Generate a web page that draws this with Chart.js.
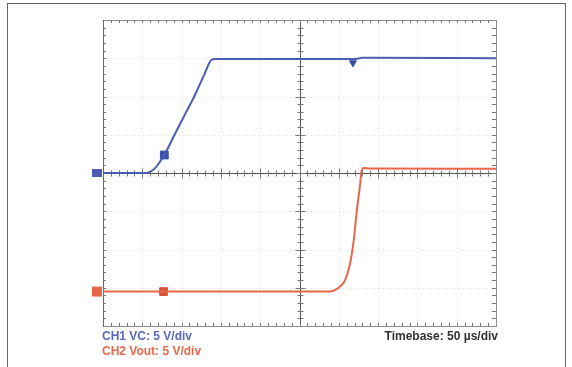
<!DOCTYPE html>
<html>
<head>
<meta charset="utf-8">
<script src="https://cdn.jsdelivr.net/npm/chart.js@4.4.0/dist/chart.umd.min.js"></script>
<style>
  body { margin: 0; background: #fff; }
  #wrap { position: relative; width: 572px; height: 367px; overflow: hidden; }
  #frame { position: absolute; left: 7px; top: 3px; width: 557px; height: 380px; border: 1px solid #666; border-bottom: none; }
  #scope { position: absolute; left: 0; top: 0; }
  .lbl { position: absolute; font: bold 12px "Liberation Sans", Arial, sans-serif; white-space: nowrap; }
</style>
</head>
<body>
<div id="wrap">
  <div id="frame"></div>
  <canvas id="scope" width="572" height="367"></canvas>
  <div class="lbl" style="left:102px; top:329px; color:#5a68b8">CH1 VC: 5 V/div</div>
  <div class="lbl" style="left:102px; top:344px; color:#e8684a">CH2 Vout: 5 V/div</div>
  <div class="lbl" style="right:74px; top:329px; color:#333">Timebase: 50 µs/div</div>
</div>
<script>
// time in µs, 50 µs/div, 10 div
let timeMin = 0
let timeMax = 500

// CH1 VC (V), 5 V/div, ground at centre
let ch1Time = [0, 53, 59, 66, 72, 78, 91, 104, 117, 129, 138, 143, 300, 320, 330, 500]
let ch1Volt = [0, 0, 0.1, 0.6, 1.4, 2.35, 5.0, 7.6, 10.2, 12.9, 14.8, 14.9, 14.9, 14.9, 15.05, 15.0]

// CH2 Vout (V), 5 V/div, ground 3.1 div below centre
let ch2Time = [0, 288, 295, 301, 308, 314, 319, 323, 327, 329, 332, 340, 500]
let ch2Volt = [0, 0, 0.2, 0.6, 1.5, 3.5, 6.7, 10.6, 13.9, 15.8, 16.15, 16.1, 16.05]

// cursor / trigger markers
let ch1MarkTime = [78]
let ch1MarkVolt = [2.35]
let ch2MarkTime = [77]
let ch2MarkVolt = [0]
let trigTime = [318]
let trigVolt = [14.4]

let blue = "#4b5cb2"
let red = "#e8664a"

function pts(xs, ys){
  return xs.map((x, i) => ({x: x, y: ys[i]}))
}

// oscilloscope graticule
let graticule = {
  id: "graticule",
  beforeDatasetsDraw(chart){
    let ctx = chart.ctx
    let a = chart.chartArea
    let x = chart.scales.x
    let y = chart.scales.y
    ctx.save()
    ctx.lineWidth = 1

    // faint dotted division lines
    ctx.strokeStyle = "rgba(190,202,218,0.6)"
    ctx.setLineDash([1, 3])
    for(let t = 50; t < 500; t += 50){
      if(t === 250) continue
      let px = Math.round(x.getPixelForValue(t)) + 0.5
      ctx.beginPath(); ctx.moveTo(px, a.top); ctx.lineTo(px, a.bottom); ctx.stroke()
    }
    for(let v = -15; v <= 15; v += 5){
      if(v === 0) continue
      let py = Math.round(y.getPixelForValue(v)) + 0.5
      ctx.beginPath(); ctx.moveTo(a.left, py); ctx.lineTo(a.right, py); ctx.stroke()
    }
    ctx.setLineDash([])

    // frame
    ctx.strokeStyle = "#8c8c8c"
    ctx.strokeRect(Math.round(a.left) + 0.5, Math.round(a.top) + 0.5, Math.round(a.right - a.left), Math.round(a.bottom - a.top))
    ctx.strokeStyle = "#666"
    ctx.beginPath(); ctx.moveTo(Math.round(a.left) + 0.5, a.top); ctx.lineTo(Math.round(a.left) + 0.5, a.bottom + 1); ctx.stroke()

    // centre cross
    let cx = Math.round(x.getPixelForValue(250)) + 0.5
    let cy = Math.round(y.getPixelForValue(0)) + 0.5
    ctx.strokeStyle = "#555"
    ctx.beginPath(); ctx.moveTo(cx, a.top); ctx.lineTo(cx, a.bottom); ctx.stroke()
    ctx.beginPath(); ctx.moveTo(a.left, cy); ctx.lineTo(a.right, cy); ctx.stroke()

    // minor ticks, 5 per division
    ctx.strokeStyle = "#777"
    for(let t = 10; t < 500; t += 10){
      let px = Math.round(x.getPixelForValue(t)) + 0.5
      let big = t % 50 === 0 ? 5 : 3
      ctx.beginPath()
      ctx.moveTo(px, a.top); ctx.lineTo(px, a.top + 3)
      ctx.moveTo(px, a.bottom); ctx.lineTo(px, a.bottom - 3)
      ctx.moveTo(px, cy - big); ctx.lineTo(px, cy + big)
      ctx.stroke()
    }
    for(let v = -19; v < 20; v += 1){
      let py = Math.round(y.getPixelForValue(v)) + 0.5
      let big = v % 5 === 0 ? 5 : 3
      ctx.beginPath()
      ctx.moveTo(a.left, py); ctx.lineTo(a.left + 3, py)
      ctx.moveTo(a.right, py); ctx.lineTo(a.right - 4, py)
      ctx.moveTo(cx - big, py); ctx.lineTo(cx + big, py)
      ctx.stroke()
    }
    ctx.restore()
  },
  afterDatasetsDraw(chart){
    // channel ground markers on the left edge
    let ctx = chart.ctx
    let a = chart.chartArea
    ctx.save()
    let g1 = chart.scales.y.getPixelForValue(0)
    let g2 = chart.scales.y2.getPixelForValue(0)
    ctx.fillStyle = blue
    ctx.fillRect(a.left - 11, g1 - 4, 10, 8)
    ctx.fillStyle = red
    ctx.fillRect(a.left - 11, g2 - 5, 10, 10)
    ctx.restore()
  }
}

let scope = new Chart(document.querySelector("#scope"), {
  type: "line",
  data: {
    datasets: [
      {
        label: "CH1 VC",
        data: pts(ch1Time, ch1Volt),
        yAxisID: "y",
        borderColor: blue,
        borderWidth: 2,
        pointRadius: 0,
        cubicInterpolationMode: "monotone"
      },
      {
        label: "CH2 Vout",
        data: pts(ch2Time, ch2Volt),
        yAxisID: "y2",
        borderColor: red,
        borderWidth: 2,
        pointRadius: 0,
        cubicInterpolationMode: "monotone"
      },
      {
        label: "CH1 cursor",
        data: pts(ch1MarkTime, ch1MarkVolt),
        yAxisID: "y",
        showLine: false,
        pointStyle: "rect",
        pointRadius: 5.5,
        backgroundColor: "#3a50aa",
        borderColor: "#3a50aa"
      },
      {
        label: "CH2 cursor",
        data: pts(ch2MarkTime, ch2MarkVolt),
        yAxisID: "y2",
        showLine: false,
        pointStyle: "rect",
        pointRadius: 5.5,
        backgroundColor: "#d9553a",
        borderColor: "#d9553a"
      },
      {
        label: "trigger",
        data: pts(trigTime, trigVolt),
        yAxisID: "y",
        showLine: false,
        pointStyle: "triangle",
        rotation: 180,
        pointRadius: 4,
        backgroundColor: "#3a4a9c",
        borderColor: "#3a4a9c"
      }
    ]
  },
  options: {
    responsive: false,
    animation: false,
    layout: {
      padding: {left: 103, top: 20, right: 76, bottom: 41}
    },
    scales: {
      x: {type: "linear", min: timeMin, max: timeMax, display: false},
      y: {min: -20, max: 20, display: false},
      y2: {min: -4.5, max: 35.5, display: false}
    },
    plugins: {
      legend: {display: false},
      tooltip: {enabled: false}
    }
  },
  plugins: [graticule]
})
</script>
</body>
</html>
